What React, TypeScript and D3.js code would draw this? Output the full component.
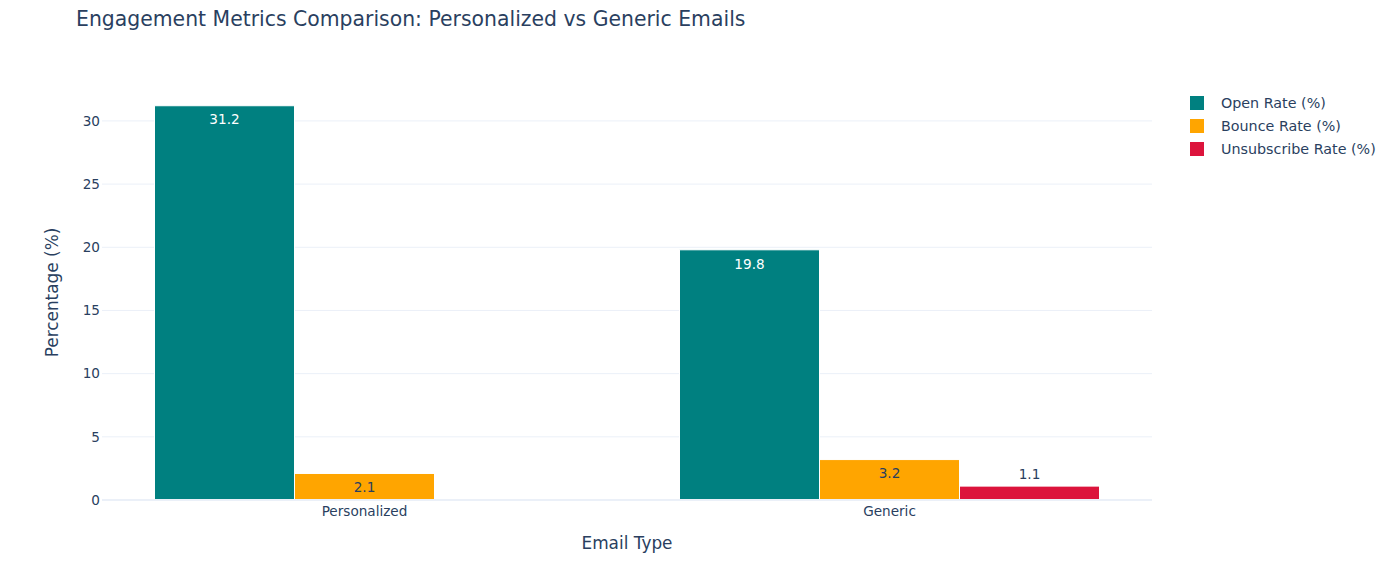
import React from 'react';
import * as d3 from 'd3';

// values
const emailTypes = ['Personalized', 'Generic'];
const metrics = ['Open Rate (%)', 'Bounce Rate (%)', 'Unsubscribe Rate (%)'];
const openRate = [31.2, 19.8];
const bounceRate = [2.1, 3.2];
const unsubscribeRate = [null, 1.1];
const yTicks = [0, 5, 10, 15, 20, 25, 30];

const colors = ['#008080', '#FFA500', '#DC143C'];
const insideText = ['#ffffff', '#2a3f5f', '#ffffff'];
const FONT = '"DejaVu Sans", Verdana, sans-serif';
const INK = '#2a3f5f';

const W = 1392, H = 580;
const margin = { left: 102, right: 240, top: 85, bottom: 80 };

const App = () => {
  const series = [openRate, bounceRate, unsubscribeRate];

  const x = d3.scaleBand()
    .domain(emailTypes)
    .range([margin.left, W - margin.right])
    .paddingInner(0.2)
    .paddingOuter(0.1);

  const xInner = d3.scaleBand()
    .domain(metrics)
    .range([0, x.bandwidth()]);

  const y = d3.scaleLinear()
    .domain([0, 31.2 * 1.0526])
    .range([H - margin.bottom, margin.top]);

  const plotLeft = margin.left;
  const plotRight = W - margin.right;
  const baseY = y(0);

  return (
    <svg width={W} height={H} style={{ position: 'absolute', left: 0, top: 0, background: '#fff' }}
      fontFamily={FONT}>
      <text x={76} y={26} fontSize={20.4} fill={INK}>
        Engagement Metrics Comparison: Personalized vs Generic Emails
      </text>

      {yTicks.map(t => (
        <g key={t}>
          {t !== 0 && <line x1={plotLeft} x2={plotRight} y1={y(t)} y2={y(t)} stroke='#ebf0f8' strokeWidth={1} />}
          <text x={plotLeft - 2} y={y(t)} dy='0.35em' textAnchor='end' fontSize={13.6} fill={INK}>{t}</text>
        </g>
      ))}

      {series.map((vals, si) => (
        <g key={metrics[si]}>
          {vals.map((v, ci) => {
            if (v == null) return null;
            const bx = x(emailTypes[ci])! + xInner(metrics[si])!;
            const bw = xInner.bandwidth();
            const by = y(v);
            const bh = baseY - by;
            const inside = bh > 22;
            return (
              <g key={ci}>
                <rect x={bx} y={by} width={bw} height={bh} fill={colors[si]} stroke='#ffffff' strokeWidth={1} />
                <text x={bx + bw / 2} y={inside ? by + 14 : by - 12} dy='0.35em' textAnchor='middle'
                  fontSize={13.6} fill={inside ? insideText[si] : INK}>{v.toFixed(1)}</text>
              </g>
            );
          })}
        </g>
      ))}

      <line x1={plotLeft} x2={plotRight} y1={baseY} y2={baseY} stroke='#ebf0f8' strokeWidth={2} />

      {emailTypes.map(c => (
        <text key={c} x={x(c)! + x.bandwidth() / 2} y={baseY + 11} dy='0.35em' textAnchor='middle'
          fontSize={13.6} fill={INK}>{c}</text>
      ))}

      <text x={(plotLeft + plotRight) / 2} y={549} textAnchor='middle' fontSize={16.9} fill={INK}>Email Type</text>
      <text transform={`translate(58, ${(margin.top + baseY) / 2}) rotate(-90)`} textAnchor='middle'
        fontSize={16.9} fill={INK}>Percentage (%)</text>

      {metrics.map((m, i) => (
        <g key={m} transform={`translate(1190, ${103 + i * 23})`}>
          <rect x={0} y={-7} width={14} height={14} fill={colors[i]} />
          <text x={31} y={0} dy='0.35em' fontSize={14.3} fill={INK}>{m}</text>
        </g>
      ))}
    </svg>
  );
};

export default App;
